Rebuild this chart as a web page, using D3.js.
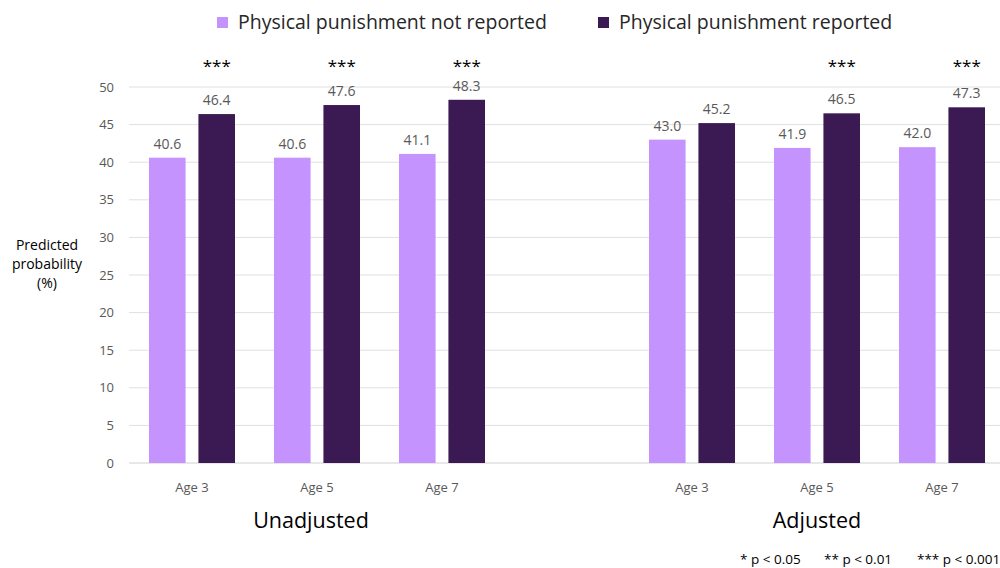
<!DOCTYPE html>
<html>
<head>
<meta charset="utf-8">
<script src="https://cdn.jsdelivr.net/npm/d3@7"></script>
<style>
  html, body { margin: 0; padding: 0; background: #fff; }
  svg { display: block; font-family: "Open Sans", "Liberation Sans", sans-serif; }
</style>
</head>
<body>
<svg id="chart" width="1000" height="568"></svg>
<script>
// Predicted probability by age, grouped into unadjusted and adjusted models
const groups = ["Unadjusted", "Adjusted"];
const ages = ["Age 3", "Age 5", "Age 7"];
const seriesNames = ["Physical punishment not reported", "Physical punishment reported"];
const notReported = [40.6, 40.6, 41.1, 43.0, 41.9, 42.0];
const reported = [46.4, 47.6, 48.3, 45.2, 46.5, 47.3];
const significance = ["***", "***", "***", "", "***", "***"];
const yTicks = [0, 5, 10, 15, 20, 25, 30, 35, 40, 45, 50];
const footnotes = ["* p < 0.05", "** p < 0.01", "*** p < 0.001"];
const colors = ["#c593fd", "#3b1952"];

const svg = d3.select("#chart");

// slots: three ages, an empty spacer, three ages
const slots = ["U0", "U1", "U2", "gap", "A0", "A1", "A2"];
const rows = [];
groups.forEach((g, gi) => ages.forEach((a, ai) => {
  const i = gi * 3 + ai;
  rows.push({ key: (gi === 0 ? "U" : "A") + ai, age: a, group: g,
              values: [notReported[i], reported[i]], sig: significance[i] });
}));

const x = d3.scaleBand().domain(slots).range([129.5, 1004.5]).padding(0);
const y = d3.scaleLinear().domain([0, 50]).range([463, 87]);
const inner = d3.scaleBand().domain([0, 1]).range([-43, 43]).paddingInner(0.26);

// gridlines
svg.append("g")
  .selectAll("line")
  .data(yTicks)
  .join("line")
  .attr("x1", 129).attr("x2", 1000)
  .attr("y1", d => y(d)).attr("y2", d => y(d))
  .attr("stroke", d => d === 0 ? "#d0d0d0" : "#e0e0e0")
  .attr("stroke-width", 1);

// y axis tick labels
const yAxis = d3.axisLeft(y).tickValues(yTicks).tickSize(0).tickPadding(0);
svg.append("g")
  .attr("transform", "translate(114,0)")
  .call(yAxis)
  .call(g => g.select(".domain").remove())
  .call(g => g.selectAll("text")
    .attr("fill", "#595959").attr("font-size", 13)
    .attr("font-family", "'Open Sans', sans-serif"));

// y axis title
const yTitle = svg.append("text")
  .attr("text-anchor", "middle").attr("font-size", 14).attr("fill", "#000");
["Predicted", "probability", "(%)"].forEach((t, i) =>
  yTitle.append("tspan").attr("x", 47).attr("y", 250 + i * 19).text(t));

// bars
const cat = svg.append("g").selectAll("g")
  .data(rows)
  .join("g")
  .attr("transform", d => `translate(${x(d.key) + x.bandwidth() / 2},0)`);

cat.selectAll("rect")
  .data(d => d.values.map((v, i) => ({ v, i })))
  .join("rect")
  .attr("x", d => inner(d.i))
  .attr("width", inner.bandwidth())
  .attr("y", d => y(d.v))
  .attr("height", d => y(0) - y(d.v))
  .attr("fill", d => colors[d.i]);

// value labels
cat.selectAll("text.val")
  .data(d => d.values.map((v, i) => ({ v, i })))
  .join("text")
  .attr("class", "val")
  .attr("x", d => inner(d.i) + inner.bandwidth() / 2)
  .attr("y", d => y(d.v) - 9)
  .attr("text-anchor", "middle")
  .attr("font-size", 14)
  .attr("fill", "#595959")
  .text(d => d.v.toFixed(1));

// significance stars over the reported bar
cat.append("text")
  .attr("x", inner(1) + inner.bandwidth() / 2)
  .attr("y", 72)
  .attr("text-anchor", "middle")
  .attr("font-size", 17)
  .attr("fill", "#000")
  .text(d => d.sig);

// age labels
cat.append("text")
  .attr("y", 492)
  .attr("text-anchor", "middle")
  .attr("font-size", 13)
  .attr("fill", "#595959")
  .text(d => d.age);

// group labels
const groupShift = [-6, 0];
groups.forEach((g, gi) => {
  const first = x(gi === 0 ? "U0" : "A0");
  const last = x(gi === 0 ? "U2" : "A2") + x.bandwidth();
  svg.append("text")
    .attr("x", (first + last) / 2 + groupShift[gi])
    .attr("y", 528)
    .attr("text-anchor", "middle")
    .attr("font-size", 21.5)
    .attr("fill", "#000")
    .text(g);
});

// legend
const legendX = [217, 598];
seriesNames.forEach((s, i) => {
  svg.append("rect")
    .attr("x", legendX[i]).attr("y", 17)
    .attr("width", 11).attr("height", 11)
    .attr("fill", colors[i]);
  svg.append("text")
    .attr("x", legendX[i] + 21).attr("y", 29)
    .attr("font-size", 19.5).attr("fill", "#262626")
    .text(s);
});

// footnote
const footX = [740, 824, 917];
footnotes.forEach((f, i) => {
  svg.append("text")
    .attr("x", footX[i]).attr("y", 564)
    .attr("font-size", 13.5).attr("fill", "#000")
    .text(f);
});
</script>
</body>
</html>
